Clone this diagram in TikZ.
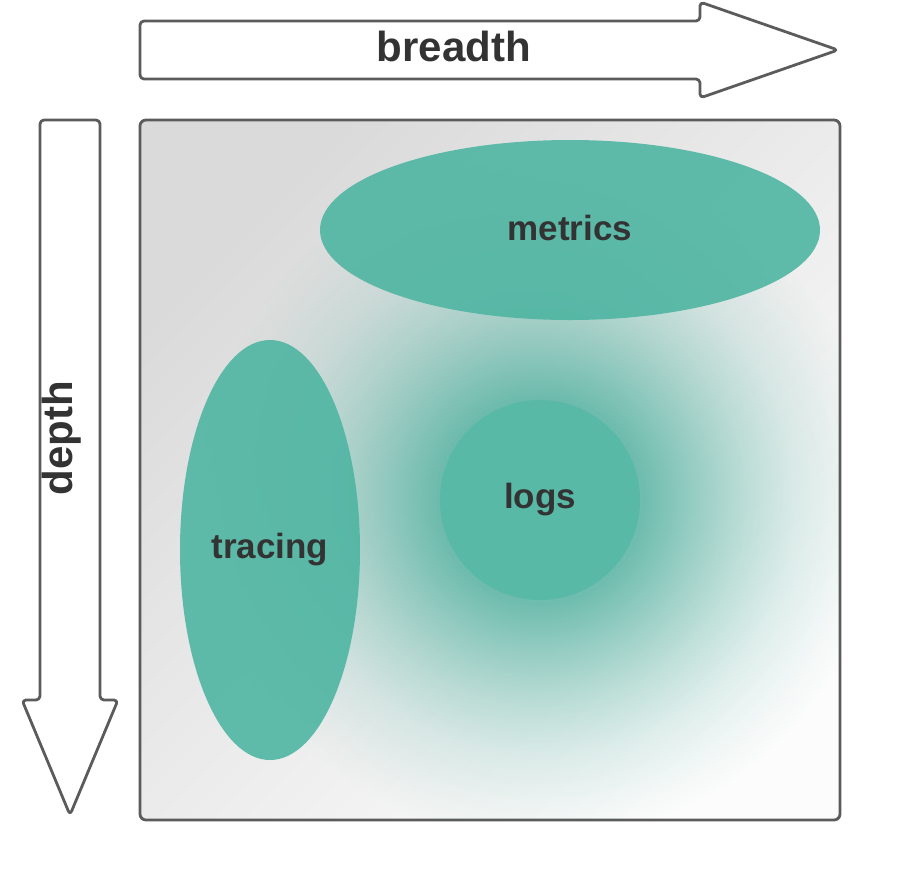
\documentclass[tikz,border=0pt]{standalone}
\usepackage{fontspec}
\setmainfont{Liberation Sans}
\usetikzlibrary{shapes.geometric,fadings}

\definecolor{teal}{HTML}{58B9A7}
\definecolor{tealsoft}{HTML}{4FB5A2}
\definecolor{glowteal}{HTML}{45AC99}
\definecolor{edge}{HTML}{5B5B5B}
\definecolor{ink}{HTML}{333333}
\definecolor{bgdark}{HTML}{DADADA}
\definecolor{bglight}{HTML}{FCFCFC}

% soft halo: fairly opaque in the middle, vanishing towards the rim
\pgfdeclareradialshading{haloshade}{\pgfpointorigin}{%
  color(0bp)=(black!15); color(7.6bp)=(black!25); color(11.4bp)=(black!48);
  color(15.2bp)=(black!69); color(18.9bp)=(black!85); color(22.7bp)=(black!95);
  color(25bp)=(black!100); color(50bp)=(black!100)}
\pgfdeclarefading{halo}{\pgfuseshading{haloshade}}

\tikzset{
  axisarrow/.style={draw=edge, line width=2.8pt, fill=white, rounded corners=4pt, line join=round},
  axislabel/.style={font=\bfseries\fontsize{42}{42}\selectfont, text=ink},
  blob/.style={fill=tealsoft, fill opacity=0.9, text opacity=1, font=\bfseries\fontsize{35}{35}\selectfont, text=ink, inner sep=0pt},
}

\begin{document}
\begin{tikzpicture}[x=1pt,y=-1pt]
\useasboundingbox (0,0) rectangle (898,879);

% breadth arrow
\draw[axisarrow] (140,21) -- (700,21) -- (700,2) -- (838,50) -- (700,98) -- (700,79) -- (140,79) -- cycle;
\node[axislabel] (breadth) at (454,46) {breadth};

% depth arrow
\draw[axisarrow] (40,120) -- (100,120) -- (100,700) -- (118,700) -- (70,815) -- (22,700) -- (40,700) -- cycle;
\node[axislabel, rotate=90] (depth) at (62,438) {depth};

% frame with diagonal gradient
\shade[rounded corners=6pt, shading=axis, top color=bgdark, bottom color=bglight, shading angle=45]
  (140,120) rectangle (840,820);
\begin{scope}
  \clip[rounded corners=6pt] (140,120) rectangle (840,820);
  \fill[glowteal, path fading=halo, fit fading=true] (540,500) circle (340);
\end{scope}
\draw[edge, line width=2.8pt, rounded corners=6pt] (140,120) rectangle (840,820);

% the three signals
\node[blob, ellipse, minimum width=500pt, minimum height=180pt] (metrics) at (570,230) {\raisebox{4pt}{metrics}};
\node[blob, ellipse, minimum width=180pt, minimum height=420pt] (tracing) at (270,550) {tracing};
\node[blob, circle, fill=teal, fill opacity=1, minimum size=200pt] (logs) at (540,500) {\raisebox{3pt}{logs}};
\end{tikzpicture}
\end{document}
